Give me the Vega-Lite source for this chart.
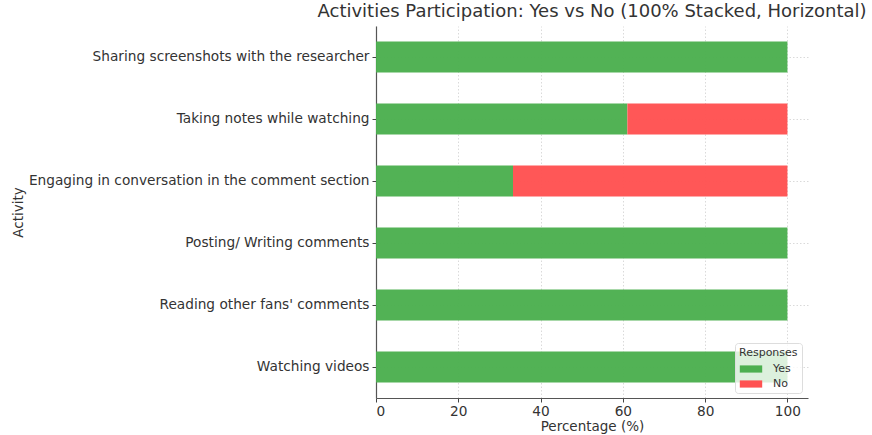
{
  "$schema": "https://vega.github.io/schema/vega-lite/v6.json",
  "width": 432,
  "height": 372,
  "autosize": {"type": "none"},
  "padding": {"left": 376, "top": 26, "right": 64, "bottom": 37},
  "background": "white",
  "title": {
    "text": "Activities Participation: Yes vs No (100% Stacked, Horizontal)",
    "font": "DejaVu Sans",
    "fontSize": 18,
    "fontWeight": "normal",
    "color": "#333333",
    "anchor": "middle",
    "offset": 5
  },
  "config": {
    "view": {"stroke": null},
    "font": "DejaVu Sans"
  },
  "data": {
    "values": [
      {"activity": "Sharing screenshots with the researcher", "response": "Yes", "pct": 100, "ord": 1},
      {"activity": "Sharing screenshots with the researcher", "response": "No", "pct": 0, "ord": 2},
      {"activity": "Taking notes while watching", "response": "Yes", "pct": 61.1, "ord": 1},
      {"activity": "Taking notes while watching", "response": "No", "pct": 38.9, "ord": 2},
      {"activity": "Engaging in conversation in the comment section", "response": "Yes", "pct": 33.3, "ord": 1},
      {"activity": "Engaging in conversation in the comment section", "response": "No", "pct": 66.7, "ord": 2},
      {"activity": "Posting/ Writing comments", "response": "Yes", "pct": 100, "ord": 1},
      {"activity": "Posting/ Writing comments", "response": "No", "pct": 0, "ord": 2},
      {"activity": "Reading other fans' comments", "response": "Yes", "pct": 100, "ord": 1},
      {"activity": "Reading other fans' comments", "response": "No", "pct": 0, "ord": 2},
      {"activity": "Watching videos", "response": "Yes", "pct": 100, "ord": 1},
      {"activity": "Watching videos", "response": "No", "pct": 0, "ord": 2}
    ]
  },
  "mark": {"type": "bar", "opacity": 0.97},
  "encoding": {
    "y": {
      "field": "activity",
      "type": "nominal",
      "sort": null,
      "scale": {"paddingInner": 0.5, "paddingOuter": 0.25},
      "axis": {
        "title": "Activity",
        "titleFont": "DejaVu Sans",
        "titleFontSize": 13.5,
        "titleFontWeight": "normal",
        "titleColor": "#333333",
        "titleX": -358,
        "titleY": 186,
        "titleAngle": -90,
        "titleAlign": "center",
        "titleBaseline": "middle",
        "labelFont": "DejaVu Sans",
        "labelFontSize": 13.7,
        "labelColor": "#333333",
        "labelLimit": 400,
        "labelPadding": 3,
        "tickSize": 4,
        "tickColor": "#444444",
        "domainColor": "#555555",
        "domainWidth": 1.2,
        "grid": true,
        "bandPosition": 0.5,
        "gridColor": "#d0d0d0",
        "gridDash": [1.5, 2],
        "gridWidth": 0.8
      }
    },
    "x": {
      "field": "pct",
      "type": "quantitative",
      "stack": "zero",
      "scale": {"domain": [0, 105], "nice": false},
      "axis": {
        "title": "Percentage (%)",
        "titleFont": "DejaVu Sans",
        "titleFontSize": 13.5,
        "titleFontWeight": "normal",
        "titleColor": "#333333",
        "titlePadding": 2,
        "labelFont": "DejaVu Sans",
        "labelFontSize": 13.7,
        "labelColor": "#333333",
        "values": [0, 20, 40, 60, 80, 100],
        "tickSize": 4,
        "tickColor": "#444444",
        "domainColor": "#555555",
        "domainWidth": 1.2,
        "grid": true,
        "gridColor": "#d0d0d0",
        "gridDash": [1.5, 2],
        "gridWidth": 0.8
      }
    },
    "color": {
      "field": "response",
      "type": "nominal",
      "scale": {"domain": ["Yes", "No"], "range": ["#4CAF50", "#FF5252"]},
      "legend": {
        "title": "Responses",
        "orient": "none",
        "legendX": 359,
        "legendY": 317,
        "titleFont": "DejaVu Sans",
        "titleFontSize": 11,
        "titleFontWeight": "normal",
        "titleColor": "#333333",
        "titlePadding": 3,
        "labelFont": "DejaVu Sans",
        "labelFontSize": 11,
        "labelColor": "#333333",
        "labelOffset": 14,
        "symbolType": "M-1.4,-0.45L1.4,-0.45L1.4,0.45L-1.4,0.45Z",
        "symbolSize": 256,
        "symbolOffset": 4,
        "symbolStrokeWidth": 0,
        "symbolOpacity": 1,
        "fillColor": "rgba(255,255,255,0.8)",
        "strokeColor": "#dddddd",
        "cornerRadius": 3,
        "padding": 4,
        "rowPadding": 2
      }
    },
    "order": {"field": "ord", "type": "quantitative"}
  }
}
